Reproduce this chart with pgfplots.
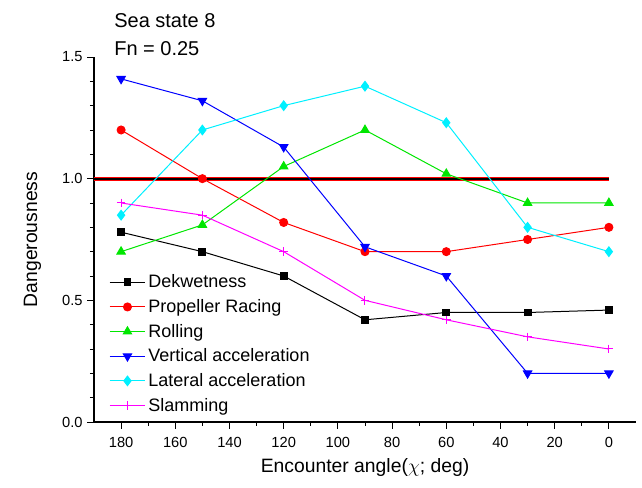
\documentclass[border=0pt]{standalone}
\usepackage{fontspec}
\setmainfont{Liberation Sans}
\usepackage{pgfplots}
\pgfplotsset{compat=1.18}
\definecolor{cG}{RGB}{0,230,0}
\definecolor{cC}{RGB}{0,240,255}
\definecolor{cM}{RGB}{255,0,255}
\definecolor{cB}{RGB}{0,0,255}
\definecolor{cR}{RGB}{255,0,0}
\begin{document}
\begin{tikzpicture}
\path[use as bounding box] (-70.5pt,-49.5pt) rectangle (411pt,316.5pt);
\begin{axis}[
  at={(0,0)}, anchor=south west,
  scale only axis, width=406.5pt, height=273.75pt,
  xmin=-10, xmax=190, ymin=0, ymax=1.5,
  x dir=reverse,
  axis x line*=bottom, axis y line*=left,
  axis line style={-, line width=0.8pt},
  xtick={0,20,...,180}, minor x tick num=1,
  ytick={0,0.5,1.0,1.5}, minor y tick num=4,
  tick align=outside,
  major tick length=5pt, minor tick length=3pt,
  every tick/.style={black, line width=0.6pt},
  yticklabel style={/pgf/number format/.cd, fixed, fixed zerofill, precision=1},
  xticklabel style={yshift=-3pt},
  /pgf/number format/assume math mode=true,
  tick label style={font=\fontsize{11}{13}\selectfont},
  xlabel={Encounter angle($\chi$; deg)},
  ylabel={Dangerousness},
  label style={font=\fontsize{14.5}{17}\selectfont},
  xlabel style={yshift=-1pt},
  ylabel style={yshift=9pt},
  clip=false,
  legend style={draw=none, fill=none, at={(rel axis cs:0.025,0.415)}, anchor=north west,
    font=\fontsize{13.5}{16}\selectfont, row sep=3.2pt, inner sep=1pt},
  legend cell align=left,
  legend image code/.code={\draw[mark repeat=2, mark phase=2] plot coordinates {(0cm,0cm) (0.47cm,0cm) (0.94cm,0cm)};},
  every axis plot/.append style={line width=0.75pt},
]
\addplot[cR, line width=3.2pt, forget plot] coordinates {(190,1) (0,1)};
\addplot[black, line width=1.6pt, forget plot] coordinates {(190,1) (0,1)};
\addplot[black, mark=square*, mark size=2.6pt] coordinates {(180,0.78) (150,0.70) (120,0.60) (90,0.42) (60,0.45) (30,0.45) (0,0.46)};
\addlegendentry{Dekwetness}
\addplot[cR, mark=*, mark size=3pt] coordinates {(180,1.20) (150,1.00) (120,0.82) (90,0.70) (60,0.70) (30,0.75) (0,0.80)};
\addlegendentry{Propeller Racing}
\addplot[cG, mark=triangle*, mark size=3.6pt] coordinates {(180,0.70) (150,0.81) (120,1.05) (90,1.20) (60,1.02) (30,0.90) (0,0.90)};
\addlegendentry{Rolling}
\addplot[cB, mark=triangle*, mark options={rotate=180}, mark size=3.6pt] coordinates {(180,1.41) (150,1.32) (120,1.13) (90,0.72) (60,0.60) (30,0.20) (0,0.20)};
\addlegendentry{Vertical acceleration}
\addplot[cC, mark=diamond*, mark size=3.6pt] coordinates {(180,0.85) (150,1.20) (120,1.30) (90,1.38) (60,1.23) (30,0.80) (0,0.70)};
\addlegendentry{Lateral acceleration}
\addplot[cM, mark=+, mark size=3.2pt] coordinates {(180,0.90) (150,0.85) (120,0.70) (90,0.50) (60,0.42) (30,0.35) (0,0.30)};
\addlegendentry{Slamming}
\node[anchor=base west, font=\fontsize{15}{18}\selectfont, inner sep=0pt] at (rel axis cs:0.037,1.082) {Sea state 8};
\node[anchor=base west, font=\fontsize{15}{18}\selectfont, inner sep=0pt] at (rel axis cs:0.037,1.003) {Fn = 0.25};
\end{axis}
\end{tikzpicture}
\end{document}
